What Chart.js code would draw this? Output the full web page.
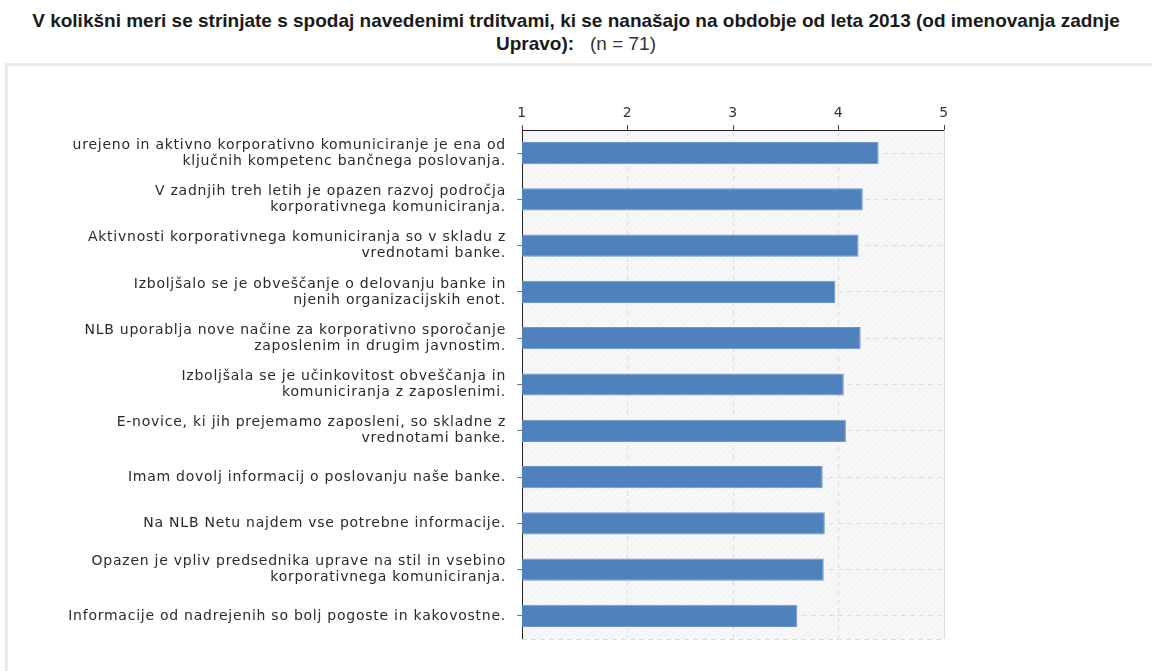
<!DOCTYPE html>
<html>
<head>
<meta charset="utf-8">
<script src="https://cdn.jsdelivr.net/npm/chart.js@4.4.1/dist/chart.umd.min.js"></script>
<style>
  html, body { margin: 0; padding: 0; background: #fff; width: 1152px; height: 671px; overflow: hidden; }
  #title {
    position: absolute; left: 0; top: 9px; width: 1152px;
    text-align: center; font-family: "Liberation Sans", Arial, sans-serif;
    font-size: 19px; line-height: 23px; color: #1a1a1a;
  }
  #title .line { display: block; white-space: nowrap; }
  #title b { font-weight: bold; }
  #title .n { font-weight: normal; color: #333; }
  #frame {
    position: absolute; left: 5px; top: 63px; width: 1160px; height: 640px;
    border: 3px solid #ebebeb; border-right: none; box-sizing: border-box;
  }
  #chart { position: absolute; left: 0; top: 0; }
</style>
</head>
<body>
<div id="title">
  <span class="line"><b>V kolikšni meri se strinjate s spodaj navedenimi trditvami, ki se nanašajo na obdobje od leta 2013 (od imenovanja zadnje</b></span>
  <span class="line"><b>Upravo):</b>&nbsp;&nbsp; <span class="n">(n = 71)</span></span>
</div>
<div id="frame"></div>
<canvas id="chart" width="1152" height="671"></canvas>
<script>
// Statements (each split into the two lines shown beside its bar)
const statements = [
  ["urejeno in aktivno korporativno komuniciranje je ena od", "ključnih kompetenc bančnega poslovanja."],
  ["V zadnjih treh letih je opazen razvoj področja", "korporativnega komuniciranja."],
  ["Aktivnosti korporativnega komuniciranja so v skladu z", "vrednotami banke."],
  ["Izboljšalo se je obveščanje o delovanju banke in", "njenih organizacijskih enot."],
  ["NLB uporablja nove načine za korporativno sporočanje", "zaposlenim in drugim javnostim."],
  ["Izboljšala se je učinkovitost obveščanja in", "komuniciranja z zaposlenimi."],
  ["E-novice, ki jih prejemamo zaposleni, so skladne z", "vrednotami banke."],
  ["Imam dovolj informacij o poslovanju naše banke."],
  ["Na NLB Netu najdem vse potrebne informacije."],
  ["Opazen je vpliv predsednika uprave na stil in vsebino", "korporativnega komuniciranja."],
  ["Informacije od nadrejenih so bolj pogoste in kakovostne."]
];

// Average agreement on the 1–5 scale
const averages = [4.38, 4.23, 4.19, 3.97, 4.21, 4.05, 4.07, 3.85, 3.87, 3.86, 3.61];

// Scale ticks shown along the top
const scaleTicks = [1, 2, 3, 4, 5];

const labelFont = { family: "'DejaVu Sans', Verdana, sans-serif", size: 14 };

// Light hatched fill for the plotting area
function makeHatch(ctx) {
  const c = document.createElement('canvas');
  c.width = 6; c.height = 6;
  const g = c.getContext('2d');
  g.fillStyle = '#f8f8f8';
  g.fillRect(0, 0, 6, 6);
  g.strokeStyle = '#efefef';
  g.lineWidth = 1;
  g.beginPath();
  g.moveTo(0, 6); g.lineTo(6, 0);
  g.moveTo(-3, 3); g.lineTo(3, -3);
  g.moveTo(3, 9); g.lineTo(9, 3);
  g.stroke();
  return ctx.createPattern(c, 'repeat');
}

// Slightly open letter spacing for the axis text
const textSpacing = {
  id: 'textSpacing',
  beforeDraw(chart) { chart.ctx.letterSpacing = '0.75px'; }
};

const plotBackground = {
  id: 'plotBackground',
  beforeDraw(chart) {
    const { ctx, chartArea: a } = chart;
    ctx.save();
    ctx.fillStyle = makeHatch(ctx);
    ctx.fillRect(a.left, a.top, a.right - a.left, a.bottom - a.top);
    ctx.restore();
  },
  afterDraw(chart) {
    const { ctx, chartArea: a } = chart;
    ctx.save();
    ctx.lineWidth = 1;
    ctx.strokeStyle = '#dcdcdc';
    ctx.beginPath();
    ctx.moveTo(a.right + 0.5, a.top);
    ctx.lineTo(a.right + 0.5, a.bottom);
    ctx.stroke();
    ctx.setLineDash([5, 4]);
    ctx.beginPath();
    ctx.moveTo(a.left, a.bottom + 0.5);
    ctx.lineTo(a.right, a.bottom + 0.5);
    ctx.stroke();
    ctx.restore();
  }
};

new Chart(document.getElementById('chart'), {
  type: 'bar',
  data: {
    labels: statements,
    datasets: [{
      data: averages,
      backgroundColor: '#4f81bd',
      borderColor: '#6d95c8',
      borderWidth: 1,
      borderSkipped: false,
      barPercentage: 0.48,
      categoryPercentage: 1
    }]
  },
  options: {
    indexAxis: 'y',
    responsive: false,
    animation: false,
    layout: { padding: { top: 100, right: 208, bottom: 32, left: 0 } },
    plugins: { legend: { display: false }, tooltip: { enabled: false }, title: { display: false } },
    scales: {
      x: {
        position: 'top',
        min: scaleTicks[0],
        max: scaleTicks[scaleTicks.length - 1],
        afterBuildTicks(scale) { scale.ticks = scaleTicks.map(v => ({ value: v })); },
        afterFit(scale) { scale.height = 30; },
        ticks: { color: '#333', font: labelFont, padding: 3 },
        grid: {
          color: c => (c.index === 0 || c.index === scaleTicks.length - 1) ? 'rgba(0,0,0,0)' : '#dedede',
          lineWidth: 1,
          tickColor: '#444',
          tickLength: 5
        },
        border: { display: true, color: '#222', width: 1, dash: [5, 4] }
      },
      y: {
        afterFit(scale) { scale.width = 522; },
        ticks: {
          autoSkip: false,
          color: '#2a2a2a',
          font: { ...labelFont, lineHeight: 1.15 },
          padding: 11
        },
        grid: {
          offset: false,
          color: '#dedede',
          lineWidth: 1,
          tickColor: '#777',
          tickLength: 5
        },
        border: { display: true, color: '#222', width: 1, dash: [5, 4] }
      }
    }
  },
  plugins: [textSpacing, plotBackground]
});
</script>
</body>
</html>
